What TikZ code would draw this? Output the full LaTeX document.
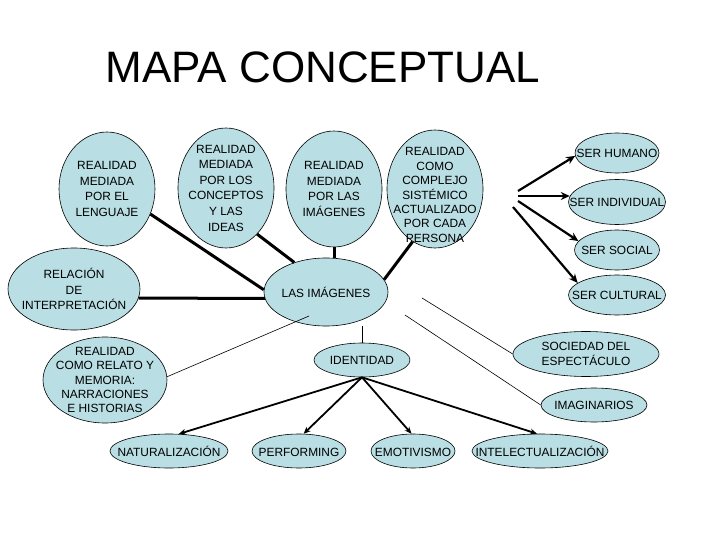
\documentclass[tikz,border=0pt]{standalone}
\usepackage{fontspec}
\setmainfont{Liberation Sans}
\usetikzlibrary{shapes.geometric,arrows.meta}
\definecolor{celeste}{RGB}{185,222,227}
\tikzset{
  concepto/.style={ellipse, draw, fill=celeste, line width=.6pt, inner sep=0pt},
  texto/.style={font=\fontsize{11.9}{15.6}\selectfont, align=center, inner sep=0pt},
  apretado/.style={font=\fontsize{11.9}{14.4}\selectfont},
  enlace/.style={line width=3pt},
  fino/.style={line width=.6pt},
  flecha/.style={line width=2.2pt, -{Stealth[length=9pt,width=8pt]}},
  flechita/.style={line width=1.8pt, -{Stealth[length=7pt,width=6pt]}},
}
\begin{document}
\begin{tikzpicture}[x=1pt, y=-1pt]
\useasboundingbox (0,0) rectangle (720,540);
\node[font=\fontsize{44}{50}\selectfont, anchor=base] (titulo) at (323,83) {MAPA CONCEPTUAL};

% fila de arriba
\node[concepto, minimum width=96, minimum height=114] (lenguaje) at (107,189) {};
\node[texto] (lenguaje-t) at (lenguaje) {REALIDAD\\MEDIADA\\POR EL\\LENGUAJE};
\node[concepto, minimum width=96, minimum height=120] (conceptos) at (226,188) {};
\node[texto] (conceptos-t) at (conceptos) {REALIDAD\\MEDIADA\\POR LOS\\CONCEPTOS\\Y LAS\\IDEAS};
\node[concepto, minimum width=96, minimum height=116] (mimagenes) at (334,189) {};
\node[texto] (mimagenes-t) at (mimagenes) {REALIDAD\\MEDIADA\\POR LAS\\IMÁGENES};
\node[concepto, minimum width=96, minimum height=118] (persona) at (435,189) {};
\node[texto, apretado] (persona-t) at (435,195) {REALIDAD\\COMO\\COMPLEJO\\SISTÉMICO\\ACTUALIZADO\\POR CADA\\PERSONA};

% columna derecha
\node[concepto, minimum width=84, minimum height=40] (humano) at (617,153) {};
\node[texto] (humano-t) at (humano) {SER HUMANO};
\node[concepto, minimum width=97, minimum height=45] (individual) at (617,202) {};
\node[texto] (individual-t) at (individual) {SER INDIVIDUAL};
\node[concepto, minimum width=85, minimum height=40] (social) at (617,250) {};
\node[texto] (social-t) at (social) {SER SOCIAL};
\node[concepto, minimum width=97, minimum height=40] (cultural) at (617,295) {};
\node[texto] (cultural-t) at (cultural) {SER CULTURAL};

% centro
\node[concepto, minimum width=132, minimum height=82] (relacion) at (74,289) {};
\node[texto] (relacion-t) at (relacion) {RELACIÓN\\DE\\INTERPRETACIÓN};
\node[concepto, minimum width=124, minimum height=68] (imagenes) at (326,292) {};
\node[texto] (imagenes-t) at (imagenes) {LAS IMÁGENES};
\node[concepto, minimum width=96, minimum height=34] (identidad) at (362,360) {};
\node[texto] (identidad-t) at (identidad) {IDENTIDAD};
\node[concepto, minimum width=124, minimum height=86] (relato) at (105,380) {};
\node[texto, apretado] (relato-t) at (relato) {REALIDAD\\COMO RELATO Y\\MEMORIA:\\NARRACIONES\\E HISTORIAS};
\node[concepto, minimum width=146, minimum height=45] (sociedad) at (586,354) {};
\node[texto, apretado] (sociedad-t) at (sociedad) {SOCIEDAD DEL\\ESPECTÁCULO};
\node[concepto, minimum width=106, minimum height=34] (imaginarios) at (594,405) {};
\node[texto] (imaginarios-t) at (imaginarios) {IMAGINARIOS};

% fila de abajo
\node[concepto, minimum width=118, minimum height=34] (naturalizacion) at (169,451) {};
\node[texto] (naturalizacion-t) at (naturalizacion) {NATURALIZACIÓN};
\node[concepto, minimum width=94, minimum height=34] (performing) at (299,451) {};
\node[texto] (performing-t) at (299,452) {PERFORMING};
\node[concepto, minimum width=84, minimum height=34] (emotivismo) at (413,451) {};
\node[texto] (emotivismo-t) at (413,452) {EMOTIVISMO};
\node[concepto, minimum width=136, minimum height=34] (intelectual) at (540,451) {};
\node[texto] (intelectual-t) at (intelectual) {INTELECTUALIZACIÓN};

% enlaces gruesos hacia las imagenes
\draw[enlace] (lenguaje.-30) -- (imagenes.178);
\draw[enlace] (conceptos.-56) -- (imagenes.137);
\draw[enlace] (relacion.-8) -- (imagenes.186);
\draw[enlace] (mimagenes.south) -- (mimagenes.south |- imagenes.north);
\draw[enlace] (persona.-113) -- (imagenes.12);

% enlaces finos
\coordinate (i1) at (309,316);
\coordinate (s1) at (422,298);
\coordinate (s2) at (405,315);
\draw[fino] (relato.3) -- (i1);
\draw[fino] (identidad.north) -- (identidad.north |- imagenes.south);
\draw[fino] (s1) -- (sociedad.west);
\draw[fino] (s2) -- (imaginarios.west);

% flechas hacia el ser
\coordinate (o1) at (518,191);
\coordinate (o2) at (518,196);
\coordinate (o3) at (518,201);
\coordinate (o4) at (513,207);
\draw[flecha] (o1) -- (humano.184);
\draw[flecha] (o2) -- (o2 -| individual.173);
\draw[flecha] (o3) -- (social.167);
\draw[flecha] (o4) -- (cultural.163);

% flechas desde la identidad
\foreach \n/\a in {naturalizacion/60, performing/75, emotivismo/95, intelectual/100}
  \draw[flechita] (identidad.south) -- (\n.\a);
\end{tikzpicture}
\end{document}
